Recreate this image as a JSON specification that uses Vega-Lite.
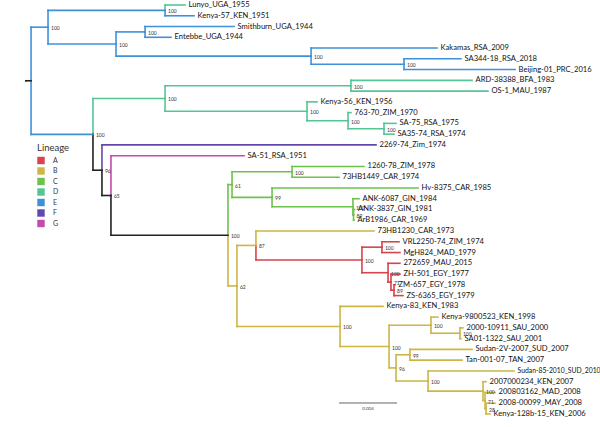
{
  "$schema": "https://vega.github.io/schema/vega-lite/v6.json",
  "width": 600,
  "height": 427,
  "padding": 0,
  "autosize": {"type": "none"},
  "background": "white",
  "config": {"view": {"stroke": null}, "font": "Lato"},
  "datasets": {
    "edges": [
      {"p": -0.07, "c": 0.28, "py": 8.04, "cy": 8.04, "g": "X"},
      {"p": 0.28, "c": 1.45, "py": 8.04, "cy": 3.06, "g": "E", "bs": "100"},
      {"p": 1.45, "c": 9.52, "py": 3.06, "cy": 1.5, "g": "E", "bs": "100"},
      {"p": 9.52, "c": 10.9, "py": 1.5, "cy": 1, "g": "D", "name": "Lunyo_UGA_1955"},
      {"p": 9.52, "c": 11.52, "py": 1.5, "cy": 2, "g": "E", "name": "Kenya-57_KEN_1951"},
      {"p": 1.45, "c": 6.14, "py": 3.06, "cy": 4.625, "g": "E", "bs": "100"},
      {"p": 6.14, "c": 8.14, "py": 4.625, "cy": 3.5, "g": "E", "bs": "100"},
      {"p": 8.14, "c": 14.28, "py": 3.5, "cy": 3, "g": "E", "name": "Smithburn_UGA_1944"},
      {"p": 8.14, "c": 9.93, "py": 3.5, "cy": 4, "g": "E", "name": "Entebbe_UGA_1944"},
      {"p": 6.14, "c": 19.59, "py": 4.625, "cy": 5.75, "g": "E", "bs": "100"},
      {"p": 19.59, "c": 28.28, "py": 5.75, "cy": 5, "g": "E", "name": "Kakamas_RSA_2009"},
      {"p": 19.59, "c": 26.0, "py": 5.75, "cy": 6.5, "g": "E", "bs": "100"},
      {"p": 26.0, "c": 29.93, "py": 6.5, "cy": 6, "g": "E", "name": "SA344-18_RSA_2018"},
      {"p": 26.0, "c": 33.66, "py": 6.5, "cy": 7, "g": "E", "name": "Beijing-01_PRC_2016"},
      {"p": 0.28, "c": 4.55, "py": 8.04, "cy": 13.02, "g": "E", "bs": "100"},
      {"p": 4.55, "c": 9.52, "py": 13.02, "cy": 9.6875, "g": "D", "bs": "100"},
      {"p": 9.52, "c": 22.34, "py": 9.6875, "cy": 8.5, "g": "D", "bs": "100"},
      {"p": 22.34, "c": 30.69, "py": 8.5, "cy": 8, "g": "D", "name": "ARD-38388_BFA_1983"},
      {"p": 22.34, "c": 31.79, "py": 8.5, "cy": 9, "g": "D", "name": "OS-1_MAU_1987"},
      {"p": 9.52, "c": 19.31, "py": 9.6875, "cy": 10.875, "g": "D", "bs": "100"},
      {"p": 19.31, "c": 20.0, "py": 10.875, "cy": 10, "g": "D", "name": "Kenya-56_KEN_1956"},
      {"p": 19.31, "c": 22.14, "py": 10.875, "cy": 11.75, "g": "D", "bs": "100"},
      {"p": 22.14, "c": 22.34, "py": 11.75, "cy": 11, "g": "D", "name": "763-70_ZIM_1970"},
      {"p": 22.14, "c": 24.62, "py": 11.75, "cy": 12.5, "g": "D", "bs": "100"},
      {"p": 24.62, "c": 25.45, "py": 12.5, "cy": 12, "g": "D", "name": "SA-75_RSA_1975"},
      {"p": 24.62, "c": 25.31, "py": 12.5, "cy": 13, "g": "D", "name": "SA35-74_RSA_1974"},
      {"p": 4.55, "c": 5.17, "py": 13.02, "cy": 16.35, "g": "X", "bs": "96"},
      {"p": 5.17, "c": 24.07, "py": 16.35, "cy": 14, "g": "F", "name": "2269-74_Zim_1974"},
      {"p": 5.17, "c": 5.79, "py": 16.35, "cy": 18.7, "g": "X", "bs": "65"},
      {"p": 5.79, "c": 14.97, "py": 18.7, "cy": 15, "g": "G", "name": "SA-51_RSA_1951"},
      {"p": 5.79, "c": 13.86, "py": 18.7, "cy": 22.4, "g": "X", "bs": "100"},
      {"p": 13.86, "c": 14.14, "py": 22.4, "cy": 17.69, "g": "C", "bs": "61"},
      {"p": 14.14, "c": 18.28, "py": 17.69, "cy": 16.5, "g": "C", "bs": "100"},
      {"p": 18.28, "c": 23.24, "py": 16.5, "cy": 16, "g": "C", "name": "1260-78_ZIM_1978"},
      {"p": 18.28, "c": 21.52, "py": 16.5, "cy": 17, "g": "C", "name": "73HB1449_CAR_1974"},
      {"p": 14.14, "c": 16.9, "py": 17.69, "cy": 18.875, "g": "C", "bs": "99"},
      {"p": 16.9, "c": 26.97, "py": 18.875, "cy": 18, "g": "C", "name": "Hv-8375_CAR_1985"},
      {"p": 16.9, "c": 22.48, "py": 18.875, "cy": 19.75, "g": "C", "bs": "100"},
      {"p": 22.48, "c": 22.9, "py": 19.75, "cy": 19, "g": "C", "name": "ANK-6087_GIN_1984"},
      {"p": 22.48, "c": 22.52, "py": 19.75, "cy": 20.5, "g": "C", "bs": "89"},
      {"p": 22.52, "c": 22.59, "py": 20.5, "cy": 20, "g": "C", "name": "ANK-3837_GIN_1981"},
      {"p": 22.52, "c": 22.55, "py": 20.5, "cy": 21, "g": "C", "name": "ArB1986_CAR_1969"},
      {"p": 13.86, "c": 14.48, "py": 22.4, "cy": 27.1, "g": "B", "bs": "62"},
      {"p": 14.48, "c": 15.79, "py": 27.1, "cy": 23.34, "g": "B", "bs": "87"},
      {"p": 15.79, "c": 23.93, "py": 23.34, "cy": 22, "g": "B", "name": "73HB1230_CAR_1973"},
      {"p": 15.79, "c": 23.1, "py": 23.34, "cy": 24.69, "g": "A", "bs": "100"},
      {"p": 23.1, "c": 24.48, "py": 24.69, "cy": 23.5, "g": "A", "bs": "100"},
      {"p": 24.48, "c": 25.66, "py": 23.5, "cy": 23, "g": "A", "name": "VRL2250-74_ZIM_1974"},
      {"p": 24.48, "c": 25.72, "py": 23.5, "cy": 24, "g": "A", "name": "MgH824_MAD_1979"},
      {"p": 23.1, "c": 24.9, "py": 24.69, "cy": 25.875, "g": "A", "bs": "100"},
      {"p": 24.9, "c": 25.72, "py": 25.875, "cy": 25, "g": "A", "name": "272659_MAU_2015"},
      {"p": 24.9, "c": 25.1, "py": 25.875, "cy": 26.75, "g": "A", "bs": "71"},
      {"p": 25.1, "c": 25.72, "py": 26.75, "cy": 26, "g": "A", "name": "ZH-501_EGY_1977"},
      {"p": 25.1, "c": 25.31, "py": 26.75, "cy": 27.5, "g": "A", "bs": "89"},
      {"p": 25.31, "c": 25.38, "py": 27.5, "cy": 27, "g": "A", "name": "ZM-657_EGY_1978"},
      {"p": 25.31, "c": 25.93, "py": 27.5, "cy": 28, "g": "A", "name": "ZS-6365_EGY_1979"},
      {"p": 14.48, "c": 21.59, "py": 27.1, "cy": 30.87, "g": "B", "bs": "100"},
      {"p": 21.59, "c": 24.55, "py": 30.87, "cy": 29, "g": "B", "name": "Kenya-83_KEN_1983"},
      {"p": 21.59, "c": 24.97, "py": 30.87, "cy": 32.735, "g": "B", "bs": "100"},
      {"p": 24.97, "c": 27.86, "py": 32.735, "cy": 30.75, "g": "B", "bs": "100"},
      {"p": 27.86, "c": 28.34, "py": 30.75, "cy": 30, "g": "B", "name": "Kenya-9800523_KEN_1998"},
      {"p": 27.86, "c": 29.86, "py": 30.75, "cy": 31.5, "g": "B", "bs": "100"},
      {"p": 29.86, "c": 30.07, "py": 31.5, "cy": 31, "g": "B", "name": "2000-10911_SAU_2000"},
      {"p": 29.86, "c": 29.93, "py": 31.5, "cy": 32, "g": "B", "name": "SA01-1322_SAU_2001"},
      {"p": 24.97, "c": 25.45, "py": 32.735, "cy": 34.72, "g": "B", "bs": "96"},
      {"p": 25.45, "c": 26.41, "py": 34.72, "cy": 33.5, "g": "B", "bs": "99"},
      {"p": 26.41, "c": 30.69, "py": 33.5, "cy": 33, "g": "B", "name": "Sudan-2V-2007_SUD_2007"},
      {"p": 26.41, "c": 30.0, "py": 33.5, "cy": 34, "g": "B", "name": "Tan-001-07_TAN_2007"},
      {"p": 25.45, "c": 27.66, "py": 34.72, "cy": 35.94, "g": "B", "bs": "100"},
      {"p": 27.66, "c": 33.59, "py": 35.94, "cy": 35, "g": "B", "name": "Sudan-85-2010_SUD_2010"},
      {"p": 27.66, "c": 31.45, "py": 35.94, "cy": 36.875, "g": "B", "bs": "100"},
      {"p": 31.45, "c": 31.66, "py": 36.875, "cy": 36, "g": "B", "name": "2007000234_KEN_2007"},
      {"p": 31.45, "c": 31.59, "py": 36.875, "cy": 37.75, "g": "B", "bs": "71"},
      {"p": 31.59, "c": 32.28, "py": 37.75, "cy": 37, "g": "B", "name": "200803162_MAD_2008"},
      {"p": 31.59, "c": 31.66, "py": 37.75, "cy": 38.5, "g": "B", "bs": "28"},
      {"p": 31.66, "c": 32.28, "py": 38.5, "cy": 38, "g": "B", "name": "2008-00099_MAY_2008"},
      {"p": 31.66, "c": 31.93, "py": 38.5, "cy": 39, "g": "B", "name": "Kenya-128b-15_KEN_2006"}
    ],
    "scalebar": [{"a": 21.52, "b": 25.52, "r": 37.98, "m": 23.52, "lr": 38.55, "label": "0.004"}]
  },
  "layer": [
    {
      "data": {"name": "edges"},
      "mark": {"type": "rule", "strokeWidth": 1.6, "strokeCap": "square"},
      "encoding": {
        "x": {"field": "p", "type": "quantitative", "scale": {"domain": [-1.862, 39.517], "zero": false, "nice": false}, "axis": null},
        "y": {"field": "py", "type": "quantitative", "scale": {"domain": [0.5355, 40.21], "zero": false, "nice": false, "reverse": true}, "axis": null},
        "y2": {"field": "cy"},
        "color": {
          "field": "g", "type": "nominal",
          "scale": {"domain": ["A", "B", "C", "D", "E", "F", "G", "X"], "range": ["#d8434d", "#cdb645", "#6cc24a", "#55c496", "#3e91d8", "#6248ad", "#c64aab", "#222222"]},
          "legend": {
            "values": ["A", "B", "C", "D", "E", "F", "G"],
            "title": "Lineage",
            "orient": "none", "legendX": 37, "legendY": 143,
            "symbolType": "square", "symbolSize": 55, "symbolStrokeWidth": 0,
            "titleFont": "Lato", "titleFontSize": 9.5, "titleFontWeight": "normal", "titleColor": "#333",
            "labelFont": "Lato", "labelFontSize": 7, "labelColor": "#333", "labelOffset": 8,
            "rowPadding": 2.5, "titlePadding": 4,
            "encode": {"symbols": {"update": {"fill": {"scale": "color", "field": "value"}, "stroke": {"value": "transparent"}}}}
          }
        }
      }
    },
    {
      "data": {"name": "edges"},
      "mark": {"type": "rule", "strokeWidth": 1.6, "strokeCap": "square"},
      "encoding": {
        "x": {"field": "p", "type": "quantitative"},
        "x2": {"field": "c"},
        "y": {"field": "cy", "type": "quantitative"},
        "color": {"field": "g", "type": "nominal"}
      }
    },
    {
      "data": {"name": "edges"},
      "transform": [{"filter": "datum.name"}],
      "mark": {"type": "text", "align": "left", "baseline": "middle", "dx": 3.5, "font": "Lato", "color": "#111"},
      "encoding": {
        "x": {"field": "c", "type": "quantitative"},
        "y": {"field": "cy", "type": "quantitative"},
        "text": {"field": "name"},
        "size": {"condition": {"test": "datum.name === 'Sudan-85-2010_SUD_2010'", "value": 6.8}, "value": 7.6}
      }
    },
    {
      "data": {"name": "edges"},
      "transform": [{"filter": "datum.bs"}],
      "mark": {"type": "text", "align": "left", "baseline": "middle", "dx": 3, "dy": 1, "fontSize": 5, "font": "Lato", "color": "#333"},
      "encoding": {
        "x": {"field": "c", "type": "quantitative"},
        "y": {"field": "cy", "type": "quantitative"},
        "text": {"field": "bs"}
      }
    },
    {
      "data": {"name": "scalebar"},
      "mark": {"type": "rule", "strokeWidth": 1, "color": "#666"},
      "encoding": {
        "x": {"field": "a", "type": "quantitative"},
        "x2": {"field": "b"},
        "y": {"field": "r", "type": "quantitative"}
      }
    },
    {
      "data": {"name": "scalebar"},
      "mark": {"type": "text", "align": "center", "baseline": "middle", "fontSize": 4.5, "font": "Lato", "color": "#444"},
      "encoding": {
        "x": {"field": "m", "type": "quantitative"},
        "y": {"field": "lr", "type": "quantitative"},
        "text": {"field": "label"}
      }
    }
  ]
}
